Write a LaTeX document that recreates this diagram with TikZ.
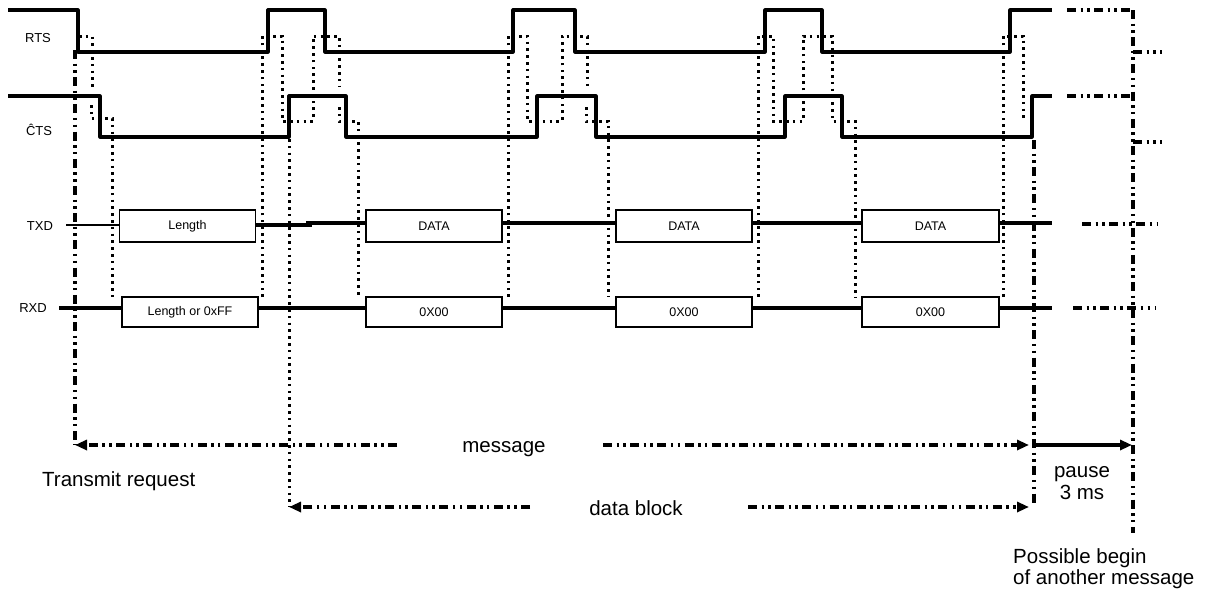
\documentclass[tikz,border=0pt]{standalone}
\usepackage{fontspec}
\setmainfont{Liberation Sans}
\usetikzlibrary{arrows.meta}
\begin{document}
\begin{tikzpicture}[x=1pt,y=-1pt,
  sig/.style={line width=3.2pt, line join=round},
  dly/.style={line width=3pt, dash pattern=on 2.6pt off 4.2pt},
  dd/.style={line width=3.3pt, dash pattern=on 9pt off 4.5pt on 2.5pt off 4.2pt on 2.5pt off 4.5pt},
  thin/.style={line width=1.2pt},
  box/.style={draw, line width=1.8pt, inner sep=0pt, outer sep=0pt, font=\fontsize{12.5}{14}\selectfont},
  tbox/.style={box, minimum width=136pt, minimum height=32pt},
  rbox/.style={box, minimum width=136pt, minimum height=30pt},
  lbl/.style={font=\fontsize{13}{15}\selectfont, inner sep=0pt},
  txt/.style={font=\fontsize{20.5}{21.5}\selectfont, inner sep=0pt},
  tip/.style={-{Triangle[length=12pt,width=10pt]}}]
\fill[white] (0,0) rectangle (1205,592);
\useasboundingbox (0,0) rectangle (1205,592);

% signal labels
\node[lbl] (rts) at (38,38) {RTS};
\node[lbl] (cts) at (39,130) {ĈTS};
\node[lbl] (txd) at (40,226) {TXD};
\node[lbl] (rxd) at (33,308) {RXD};

% RTS
\draw[sig] (8,10) -- (78,10) -- (78,52) -- (268,52) -- (268,10) -- (325,10) -- (325,52)
  -- (513,52) -- (513,10) -- (575,10) -- (575,52) -- (765,52) -- (765,10) -- (822,10)
  -- (822,52) -- (1010,52) -- (1010,10) -- (1052,10);
% CTS
\draw[sig] (8,96) -- (100,96) -- (100,137) -- (289,137) -- (289,96) -- (346,96) -- (346,137)
  -- (537,137) -- (537,96) -- (596,96) -- (596,137) -- (785,137) -- (785,96) -- (842,96)
  -- (842,137) -- (1032,137) -- (1032,96) -- (1052,96);

% continuation (dash-dot)
\draw[dd] (1067,10) -- (1131,10);
\draw[dd] (1067,96) -- (1131,96);
\draw[dd] (1133,10) -- (1133,533);
\draw[dd] (1133,52) -- (1162,52);
\draw[dd] (1133,142) -- (1162,142);
\draw[dd] (1082,224) -- (1158,224);
\draw[dd] (1073,308) -- (1155,308);

% delayed (dotted) traces
\draw[dly] (79,36) -- (92,36) -- (92,87);
\draw[dly] (91,105) -- (91,118) -- (112,118) -- (112,297);
\draw[dly] (262,297) -- (262,36) -- (282,36) -- (282,121) -- (313,121) -- (313,36) -- (339,36) -- (339,87);
\draw[dly] (339,107) -- (339,121) -- (358,121) -- (358,297);
\draw[dly] (508,297) -- (508,36) -- (527,36) -- (527,121) -- (562,121) -- (562,36) -- (587,36) -- (587,87);
\draw[dly] (586,107) -- (586,121) -- (608,121) -- (608,297);
\draw[dly] (758,297) -- (758,36) -- (773,36) -- (773,121) -- (803,121) -- (803,36) -- (832,36) -- (832,121) -- (855,121) -- (855,297);
\draw[dly] (1003,297) -- (1003,36) -- (1023,36) -- (1023,121);

% TXD
\node[tbox] (len) at (187.5,226) {Length};
\node[tbox] (d1) at (434,226) {DATA};
\node[tbox] (d2) at (684,226) {DATA};
\node[tbox, minimum width=137pt] (d3) at (930.5,226) {DATA};
\coordinate (txs) at (66,225);
\draw[thin] (txs) -- (txs -| len.west);
\draw[sig] (len.east |- 0,225) -- (312,225);
\draw[sig] (306,223) -- (d1.west |- 0,223);
\draw[sig] (d1.east |- 0,223) -- (d2.west |- 0,223);
\draw[sig] (d2.east |- 0,223) -- (d3.west |- 0,223);
\coordinate (txe) at (1052,223);
\draw[sig] (d3.east |- txe) -- (txe);

% RXD
\node[rbox] (r0) at (190,312) {Length or 0xFF};
\node[rbox] (r1) at (434,312) {0X00};
\node[rbox] (r2) at (684,312) {0X00};
\node[rbox, minimum width=137pt] (r3) at (930.5,312) {0X00};
\coordinate (rxs) at (59,308);
\coordinate (rxe) at (1052,308);
\draw[sig] (rxs) -- (rxs -| r0.west);
\draw[sig] (r0.east |- rxs) -- (r1.west |- rxs);
\draw[sig] (r1.east |- rxs) -- (r2.west |- rxs);
\draw[sig] (r2.east |- rxs) -- (r3.west |- rxs);
\draw[sig] (r3.east |- rxs) -- (rxe);

% vertical markers
\draw[dd] (75,50) -- (75,445);
\draw[dly] (289,139) -- (289,507);
\draw[dd] (1034,140) -- (1034,507);

% bottom labels
\node[txt] (msg) at (504,449) {message};
\node[txt, anchor=west] (treq) at (42,481) {Transmit request};
\node[txt] (dblk) at (636,508) {data block};
\node[txt, align=center] (pause) at (1082,483) {pause\\3 ms};
\node[txt, anchor=north west, align=left] (poss) at (1013,548) {Possible begin\\of another message};

% arrows
\coordinate (mL) at (75,445);
\coordinate (mLe) at (397,445);
\coordinate (mRs) at (603,445);
\coordinate (mR) at (1029,445);
\coordinate (pS) at (1034,445);
\coordinate (pE) at (1132,445);
\coordinate (bL) at (289,507);
\coordinate (bLe) at (530,507);
\coordinate (bRs) at (748,507);
\coordinate (bR) at (1029,507);
\draw[dd, tip] (mLe) -- (mL);
\draw[dd, tip] (mRs) -- (mR);
\draw[sig, tip] (pS) -- (pE);
\draw[dd, tip] (bLe) -- (bL);
\draw[dd, tip] (bRs) -- (bR);
\end{tikzpicture}
\end{document}
